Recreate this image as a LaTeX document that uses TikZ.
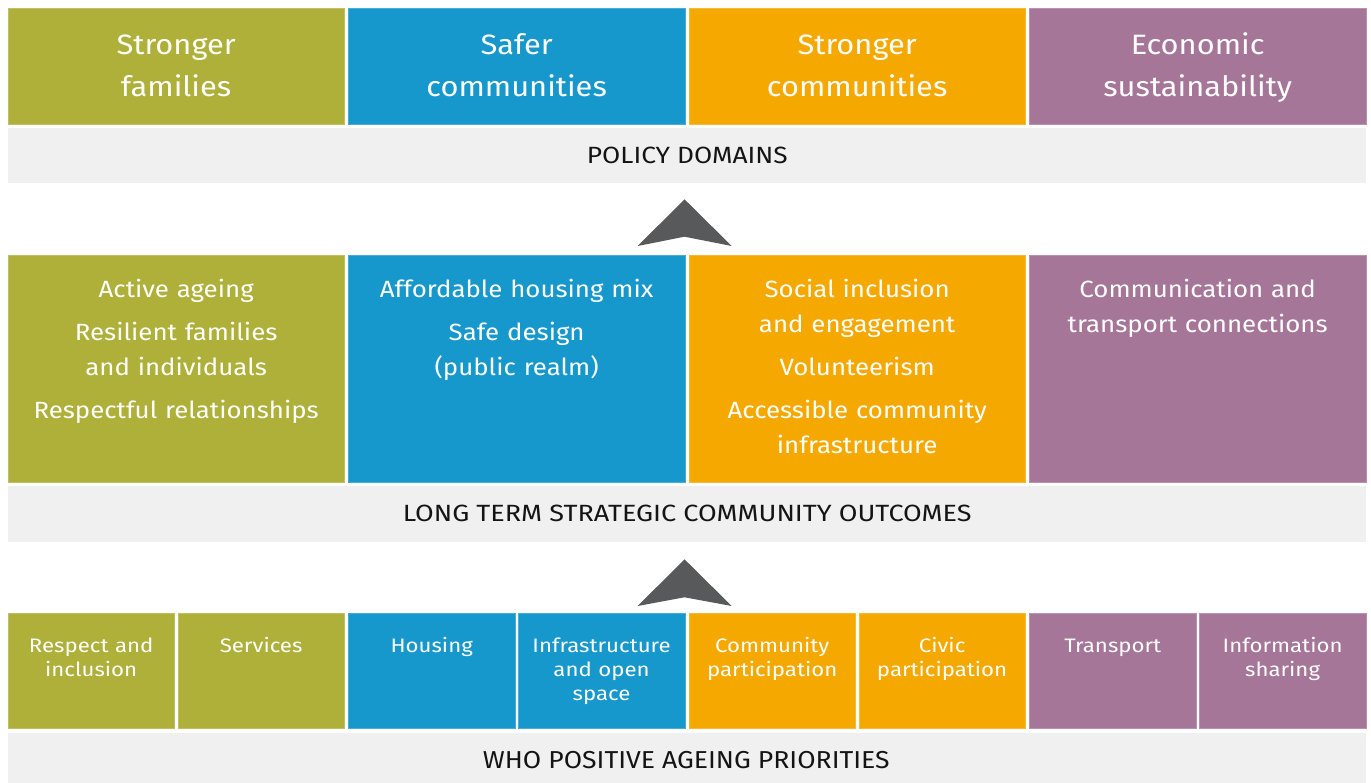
\documentclass[tikz,border=0pt]{standalone}
\usepackage{fontspec}
\setmainfont{Fira Sans}[FakeStretch=1.1]
\newfontfamily\lowfont{Fira Sans}[FakeStretch=1.14]
\newfontfamily\capsfont{Fira Sans}[FakeStretch=1.15]
\newfontfamily\capswide{Fira Sans}[FakeStretch=1.12]
\newfontfamily\capsmid{Fira Sans}[FakeStretch=1.085]
\definecolor{cOlive}{RGB}{174,176,58}
\definecolor{cBlue}{RGB}{23,152,204}
\definecolor{cOrange}{RGB}{245,168,0}
\definecolor{cPlum}{RGB}{166,118,152}
\definecolor{cBand}{RGB}{240,240,240}
\definecolor{cArrow}{RGB}{88,89,91}
\definecolor{cInk}{RGB}{20,20,20}
\begin{document}
\begin{tikzpicture}[x=1pt,y=-1pt,
  tile/.style={anchor=north west, inner sep=0pt, outer sep=0pt,
    fill=#1, draw=#1!80!white, line width=0.5pt},
  bigtile/.style={tile=#1, minimum width=336.3pt},
  halftile/.style={tile=#1, minimum width=166.35pt, minimum height=115pt},
  band/.style={anchor=north west, inner sep=0pt, outer sep=0pt, fill=cBand,
    minimum width=1357.8pt},
  toptext/.style={anchor=base, inner sep=0pt, text=white, text width=330pt,
    align=center, font=\fontsize{28}{42}\selectfont},
  midtext/.style={anchor=base, inner sep=0pt, text=white, text width=330pt,
    align=center, font=\fontsize{23.5}{35}\selectfont},
  lowtext/.style={anchor=base, inner sep=0pt, text=white, text width=162pt,
    align=center, font=\lowfont\fontsize{19.5}{24}\selectfont},
  bandtext/.style={anchor=base, inner sep=0pt, text=cInk,
    font=\capsfont\fontsize{23.5}{28}\selectfont},
  chevron/.style={fill=cArrow}]
\useasboundingbox (0,0) rectangle (1371,783);

% ---- policy domains ----
\node[bigtile=cOlive,  minimum height=116pt] (pdA) at (8,8) {};
\node[bigtile=cBlue,   minimum height=116pt] (pdB) at (348.5,8) {};
\node[bigtile=cOrange, minimum height=116pt] (pdC) at (689,8) {};
\node[bigtile=cPlum,   minimum height=116pt] (pdD) at (1029.5,8) {};
\node[toptext] (pdAt) at (176.15,54.3) {Stronger\\families};
\node[toptext] (pdBt) at (516.65,54.3) {Safer\\communities};
\node[toptext] (pdCt) at (857.15,54.3) {Stronger\\communities};
\node[toptext] (pdDt) at (1197.65,54.3) {Economic\\sustainability};
\node[band, minimum height=55pt] (bandA) at (8,128) {};
\node[bandtext, font=\capswide\fontsize{23.5}{28}\selectfont] (bandAt)
  at (687.3,163.3) {POLICY DOMAINS};

\fill[chevron] (684.5,199.3) -- (731.7,246) -- (684.5,236.7) -- (637.7,246) -- cycle;

% ---- long term outcomes ----
\node[bigtile=cOlive,  minimum height=226.6pt] (loA) at (8,255.7) {};
\node[bigtile=cBlue,   minimum height=226.6pt] (loB) at (348.5,255.7) {};
\node[bigtile=cOrange, minimum height=226.6pt] (loC) at (689,255.7) {};
\node[bigtile=cPlum,   minimum height=226.6pt] (loD) at (1029.5,255.7) {};
\node[midtext] (loAt) at (176.15,297.3)
  {Active ageing\\[8pt]Resilient families\\and individuals\\[8pt]Respectful relationships};
\node[midtext] (loBt) at (516.65,297.3)
  {Affordable housing mix\\[8pt]Safe design\\(public realm)};
\node[midtext] (loCt) at (857.15,297.3)
  {Social inclusion\\and engagement\\[8pt]Volunteerism\\[8pt]Accessible community\\infrastructure};
\node[midtext] (loDt) at (1197.65,297.3)
  {Communication and\\transport connections};
\node[band, minimum height=55.7pt] (bandB) at (8,486) {};
\node[bandtext] (bandBt) at (687.2,521.8) {LONG TERM STRATEGIC COMMUNITY OUTCOMES};

\fill[chevron] (684.5,559.3) -- (731.7,606) -- (684.5,597.3) -- (637.7,606) -- cycle;

% ---- WHO priorities ----
\node[halftile=cOlive]  (whA) at (8,613.3) {};
\node[halftile=cOlive]  (whB) at (177.95,613.3) {};
\node[halftile=cBlue]   (whC) at (348.5,613.3) {};
\node[halftile=cBlue]   (whD) at (518.45,613.3) {};
\node[halftile=cOrange] (whE) at (689,613.3) {};
\node[halftile=cOrange] (whF) at (858.95,613.3) {};
\node[halftile=cPlum]   (whG) at (1029.5,613.3) {};
\node[halftile=cPlum]   (whH) at (1199.45,613.3) {};
\node[lowtext] (whAt) at (91.2,652) {Respect and\\inclusion};
\node[lowtext] (whBt) at (261.1,652) {Services};
\node[lowtext] (whCt) at (431.7,652) {Housing};
\node[lowtext] (whDt) at (601.6,652) {Infrastructure\\and open\\space};
\node[lowtext] (whEt) at (772.2,652) {Community\\participation};
\node[lowtext] (whFt) at (942.1,652) {Civic\\participation};
\node[lowtext] (whGt) at (1112.7,652) {Transport};
\node[lowtext] (whHt) at (1282.6,652) {Information\\sharing};
\node[band, minimum height=50.3pt] (bandC) at (8,732.7) {};
\node[bandtext, font=\capsmid\fontsize{24.5}{29}\selectfont] (bandCt)
  at (686.3,768.2) {WHO POSITIVE AGEING PRIORITIES};
\end{tikzpicture}
\end{document}
